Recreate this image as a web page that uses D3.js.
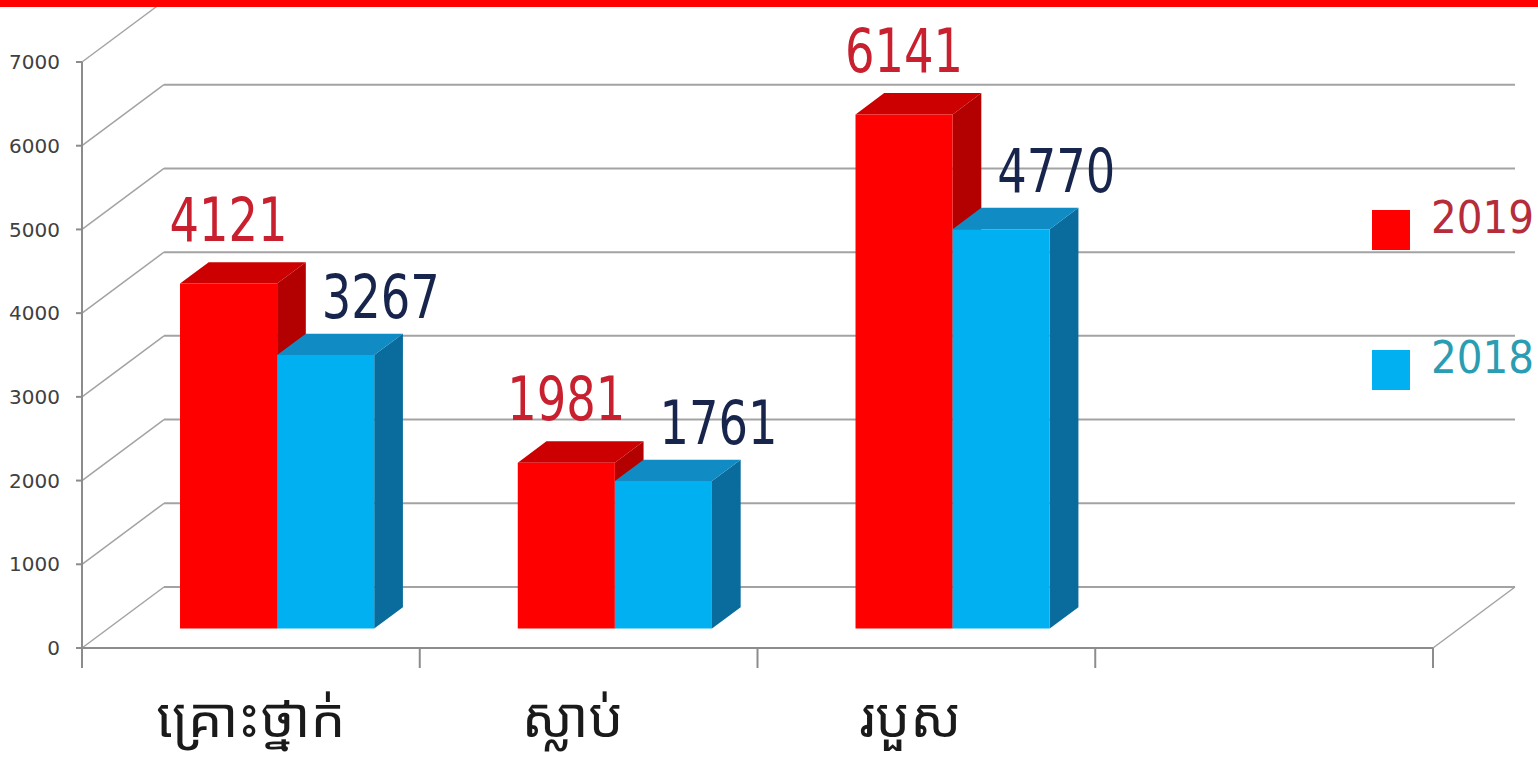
<!DOCTYPE html>
<html>
<head>
<meta charset="utf-8">
<script src="https://cdn.jsdelivr.net/npm/d3@7"></script>
<style>
  body { margin: 0; background: #fff; }
  .grid-line { stroke: #a3a3a3; stroke-width: 2; fill: none; }
  .depth-line { stroke: #a3a3a3; stroke-width: 1.5; fill: none; }
  .axis-line { stroke: #8c8c8c; stroke-width: 2; fill: none; }
  .y-label { font-family: "DejaVu Sans", sans-serif; font-size: 20px; fill: #404040; }
  .value { font-family: "DejaVu Sans Condensed", "DejaVu Sans", sans-serif; font-stretch: condensed; font-size: 60px; }
  .legend-text { font-family: "DejaVu Sans Condensed", "DejaVu Sans", sans-serif; font-stretch: condensed; font-size: 45px; }
  .cat-label { font-family: "Noto Sans Khmer", "Khmer OS", "Noto Serif Khmer", "Khmer OS System", "Noto Sans", sans-serif; font-size: 55px; fill: #1a1a1a; }
</style>
</head>
<body>
<div id="chart"></div>
<script>
// data
var categories = ["គ្រោះថ្នាក់", "ស្លាប់", "របួស", ""];
var seriesNames = ["2019", "2018"];
var values2019 = [4121, 1981, 6141];
var values2018 = [3267, 1761, 4770];
var yTicks = [0, 1000, 2000, 3000, 4000, 5000, 6000, 7000];

var width = 1538, height = 757;
var plot = {left: 82, right: 1433, top: 62, bottom: 648};
var depth = {dx: 82, dy: -61};   // wall depth offset
var barZ = [0.32, 0.67];        // bar front / back, as fraction of depth

var faceColors = {
  "2019": {front: "#ff0000", top: "#cc0000", side: "#b30000", label: "#c8202e"},
  "2018": {front: "#00b0f0", top: "#118bc4", side: "#0a6c9c", label: "#17254d"}
};
var legendColors = {"2019": "#b52d3a", "2018": "#2a9db3"};

var svg = d3.select("#chart").append("svg")
  .attr("width", width)
  .attr("height", height);

var x = d3.scaleBand()
  .domain(d3.range(categories.length))
  .range([plot.left, plot.right]);

var groupW = x.bandwidth() * 0.575;
var x1 = d3.scaleBand()
  .domain(seriesNames)
  .range([(x.bandwidth() - groupW) / 2, (x.bandwidth() + groupW) / 2]);

var y = d3.scaleLinear()
  .domain([0, 7000])
  .range([plot.bottom, plot.top]);

function shift(px, py, z) {
  return [px + z * depth.dx, py + z * depth.dy];
}

// back wall gridlines + floor
var gridG = svg.append("g").attr("class", "grid");
yTicks.forEach(function (t) {
  var p0 = [plot.left, y(t)], p1 = shift(plot.left, y(t), 1);
  gridG.append("line").attr("class", "depth-line")
    .attr("x1", p0[0]).attr("y1", p0[1]).attr("x2", p1[0]).attr("y2", p1[1]);
  gridG.append("line").attr("class", "grid-line")
    .attr("x1", p1[0]).attr("y1", p1[1])
    .attr("x2", t === 0 ? plot.right + depth.dx : 1515).attr("y2", p1[1]);
});
var fr = shift(plot.right, y(0), 1);
gridG.append("line").attr("class", "depth-line")
  .attr("x1", plot.right).attr("y1", y(0)).attr("x2", fr[0]).attr("y2", fr[1]);

// y axis
var axisG = svg.append("g").attr("class", "axes");
axisG.append("line").attr("class", "axis-line")
  .attr("x1", plot.left).attr("y1", y(7000)).attr("x2", plot.left).attr("y2", plot.bottom + 20);
axisG.selectAll("line.ytick").data(yTicks).enter().append("line")
  .attr("class", "axis-line ytick")
  .attr("x1", plot.left - 6).attr("x2", plot.left)
  .attr("y1", function (d) { return y(d); }).attr("y2", function (d) { return y(d); });
axisG.selectAll("text.y-label").data(yTicks).enter().append("text")
  .attr("class", "y-label")
  .attr("x", 60).attr("y", function (d) { return y(d); })
  .attr("dy", "0.36em")
  .attr("text-anchor", "end")
  .text(function (d) { return d; });

// x axis
axisG.append("line").attr("class", "axis-line")
  .attr("x1", plot.left).attr("y1", plot.bottom).attr("x2", plot.right).attr("y2", plot.bottom);
var xTicks = d3.range(categories.length + 1).map(function (i) { return plot.left + i * x.step(); });
axisG.selectAll("line.xtick").data(xTicks).enter().append("line")
  .attr("class", "axis-line xtick")
  .attr("x1", function (d) { return d; }).attr("x2", function (d) { return d; })
  .attr("y1", plot.bottom).attr("y2", plot.bottom + 20);
axisG.selectAll("text.cat-label").data(categories).enter().append("text")
  .attr("class", "cat-label")
  .attr("x", function (d, i) { return x(i) + x.bandwidth() / 2 - (i ? 16 : 0); })
  .attr("y", 737)
  .attr("text-anchor", "middle")
  .text(function (d) { return d; });

// bars
var bars = [];
categories.forEach(function (c, i) {
  if (values2019[i] == null) return;
  bars.push({cat: i, key: "2019", value: values2019[i]});
  bars.push({cat: i, key: "2018", value: values2018[i]});
});

var barG = svg.append("g").attr("class", "bars");
bars.forEach(function (b) {
  var x0 = x(b.cat) + x1(b.key), w = x1.bandwidth();
  var yt = y(b.value), yb = y(0);
  var z0 = barZ[0], z1 = barZ[1];
  var f0 = shift(x0, yt, z0), f1 = shift(x0 + w, yt, z0),
      b0 = shift(x0, yt, z1), b1 = shift(x0 + w, yt, z1),
      fb = shift(x0 + w, yb, z0), bb = shift(x0 + w, yb, z1),
      fl = shift(x0, yb, z0);
  var col = faceColors[b.key];
  var g = barG.append("g").attr("class", "bar");
  g.append("path").attr("d", d3.line()([f1, b1, bb, fb])).attr("fill", col.side);
  g.append("path").attr("d", d3.line()([f0, f1, b1, b0])).attr("fill", col.top);
  g.append("path").attr("d", d3.line()([f0, f1, fb, fl])).attr("fill", col.front);
  b.cx = f0[0] + w / 2;
  b.ty = b0[1];
});

// value labels
bars.forEach(function (b) {
  var lx = b.cx + (b.key === "2018" ? 55 : 0);
  var ly = b.ty - (b.key === "2018" ? 16 : 21);
  svg.append("text")
    .attr("class", "value")
    .attr("text-anchor", "middle")
    .attr("transform", "translate(" + lx + "," + ly + ") scale(0.86,1)")
    .attr("fill", faceColors[b.key].label)
    .text(b.value);
});

// legend
var legend = svg.append("g").attr("class", "legend");
seriesNames.forEach(function (s, i) {
  var ly = 210 + i * 140;
  legend.append("rect")
    .attr("x", 1372).attr("y", ly).attr("width", 38).attr("height", 40)
    .attr("fill", faceColors[s].front);
  legend.append("text")
    .attr("class", "legend-text")
    .attr("x", 1431).attr("y", ly + 23)
    .attr("fill", legendColors[s])
    .text(s);
});

// red band across the top
svg.append("rect")
  .attr("x", 0).attr("y", 0).attr("width", width).attr("height", 7)
  .attr("fill", "#ff0000");
</script>
</body>
</html>
